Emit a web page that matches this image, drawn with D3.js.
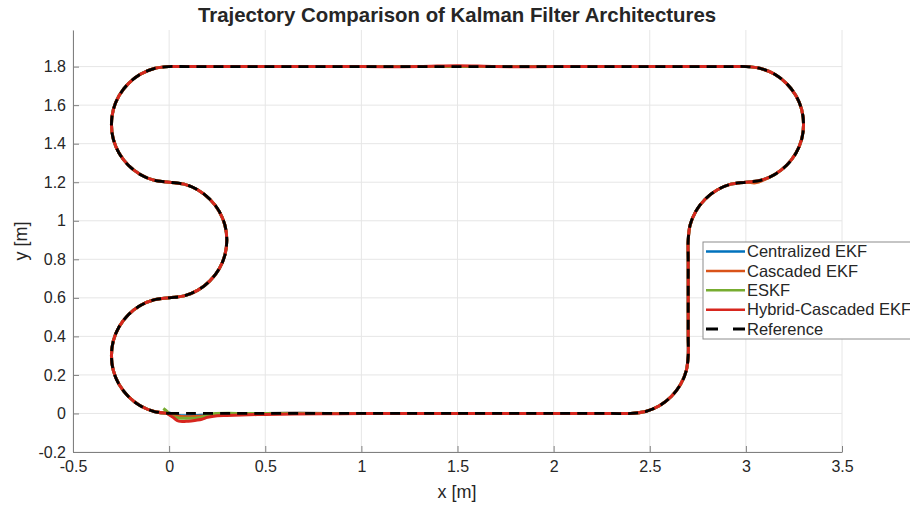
<!DOCTYPE html>
<html>
<head>
<meta charset="utf-8">
<script src="https://cdn.jsdelivr.net/npm/d3@7"></script>
<style>
  body { margin: 0; background: #fff; }
  svg { font-family: "Liberation Sans", Arial, sans-serif; }
</style>
</head>
<body>
<svg width="910" height="505"></svg>
<script>
// reference track (x, y in metres), counter-clockwise from the origin
var refBottom = [[0, 0], [0.5, 0], [1, 0], [1.5, 0], [2, 0], [2.3, 0], [2.4, 0]];
var refRight1 = [
  [2.478, 0.01], [2.55, 0.04], [2.612, 0.088], [2.66, 0.15], [2.69, 0.222], [2.7, 0.3],
  [2.7, 0.4], [2.7, 0.6], [2.7, 0.8], [2.7, 0.9],
  [2.71, 0.978], [2.74, 1.05], [2.788, 1.112], [2.85, 1.16], [2.922, 1.19], [3.0, 1.2]
];
var refRight2 = [
  [3.078, 1.21], [3.15, 1.24], [3.212, 1.288], [3.26, 1.35], [3.29, 1.422], [3.3, 1.5],
  [3.29, 1.578], [3.26, 1.65], [3.212, 1.712], [3.15, 1.76], [3.078, 1.79], [3.0, 1.8]
];
var refTop = [[2.9, 1.8], [2.5, 1.8], [2, 1.8], [1.5, 1.8], [1, 1.8], [0.5, 1.8], [0.1, 1.8], [0, 1.8]];
var refLeft = [
  [-0.078, 1.79], [-0.15, 1.76], [-0.212, 1.712], [-0.26, 1.65], [-0.29, 1.578], [-0.3, 1.5],
  [-0.29, 1.422], [-0.26, 1.35], [-0.212, 1.288], [-0.15, 1.24], [-0.078, 1.21], [0, 1.2],
  [0.078, 1.19], [0.15, 1.16], [0.212, 1.112], [0.26, 1.05], [0.29, 0.978], [0.3, 0.9],
  [0.29, 0.822], [0.26, 0.75], [0.212, 0.688], [0.15, 0.64], [0.078, 0.61], [0, 0.6],
  [-0.078, 0.59], [-0.15, 0.56], [-0.212, 0.512], [-0.26, 0.45], [-0.29, 0.378], [-0.3, 0.3],
  [-0.29, 0.222], [-0.26, 0.15], [-0.212, 0.088], [-0.15, 0.04], [-0.078, 0.01], [0, 0]
];

// estimated trajectories: their own start transients, then they sit on the track
var centralizedStart = [[-0.01, 0.005], [0.05, -0.01], [0.15, -0.01], [0.3, -0.005]];
var cascadedStart = [[-0.01, 0.0], [0.05, -0.015], [0.15, -0.015], [0.3, -0.005]];
var eskfStart = [[-0.03, 0.026], [-0.01, 0.01], [0.01, -0.01], [0.04, -0.022], [0.1, -0.025],
                 [0.16, -0.022], [0.2, -0.01], [0.23, -0.002], [0.4, 0]];
var hybridStart = [[-0.01, 0.0], [0.02, -0.02], [0.05, -0.04], [0.1, -0.04], [0.14, -0.035],
                   [0.17, -0.03], [0.2, -0.02], [0.25, -0.012], [0.3, -0.01], [0.5, -0.005], [0.8, -0.002]];

// small wobbles seen along the track
var cascadedBump = [[3.05, 1.197], [3.1, 1.215]];
var hybridTop = [[2.9, 1.8], [2.5, 1.8], [2, 1.8], [1.7, 1.8], [1.5, 1.805], [1.3, 1.8],
                 [1, 1.8], [0.5, 1.8], [0.1, 1.8], [0, 1.8]];

var seriesNames = ["Centralized EKF", "Cascaded EKF", "ESKF", "Hybrid-Cascaded EKF", "Reference"];
var seriesColors = ["#0072BD", "#D95319", "#77AC30", "#D7261E", "#000000"];

var xTicks = [-0.5, 0, 0.5, 1, 1.5, 2, 2.5, 3, 3.5];
var yTicks = [-0.2, 0, 0.2, 0.4, 0.6, 0.8, 1, 1.2, 1.4, 1.6, 1.8];

var reference = [].concat(refBottom, refRight1, refRight2, refTop, refLeft);

function bottomAfter(x0) {
  return refBottom.filter(function(p) { return p[0] > x0; });
}

var estimates = [
  [].concat(centralizedStart, bottomAfter(0.3), refRight1, refRight2, refTop, refLeft),
  [].concat(cascadedStart, bottomAfter(0.3), refRight1, cascadedBump, refRight2.slice(1), refTop, refLeft),
  [].concat(eskfStart, bottomAfter(0.4), refRight1, refRight2, refTop, refLeft),
  [].concat(hybridStart, bottomAfter(0.8), refRight1, refRight2, hybridTop, refLeft)
];

var svg = d3.select("svg"),
    plotLeft = 73, plotRight = 842, plotTop = 30, plotBottom = 452;

var x = d3.scaleLinear().domain([-0.5, 3.5]).range([plotLeft, plotRight]);
var y = d3.scaleLinear().domain([-0.2, 1.99]).range([plotBottom, plotTop]);

var fmt = function(d) { return String(d); };

// grid
var grid = svg.append("g").attr("stroke", "#e6e6e6").attr("stroke-width", 1);
grid.selectAll(".gx").data(xTicks).enter().append("line")
    .attr("x1", function(d) { return x(d); }).attr("x2", function(d) { return x(d); })
    .attr("y1", plotTop).attr("y2", plotBottom);
grid.selectAll(".gy").data(yTicks).enter().append("line")
    .attr("y1", function(d) { return y(d); }).attr("y2", function(d) { return y(d); })
    .attr("x1", plotLeft).attr("x2", plotRight);

// axes
var xAxis = svg.append("g")
    .attr("transform", "translate(0," + plotBottom + ")")
    .call(d3.axisBottom(x).tickValues(xTicks).tickSizeInner(-6).tickSizeOuter(0).tickPadding(9)
      .tickFormat(fmt));
var yAxis = svg.append("g")
    .attr("transform", "translate(" + plotLeft + ",0)")
    .call(d3.axisLeft(y).tickValues(yTicks).tickSizeInner(-6).tickSizeOuter(0).tickPadding(7)
      .tickFormat(fmt));
[xAxis, yAxis].forEach(function(a) {
  a.select(".domain").attr("stroke", "#808080");
  a.selectAll(".tick line").attr("stroke", "#808080");
  a.selectAll(".tick text").attr("fill", "#262626").attr("font-size", 16)
    .attr("font-family", "Liberation Sans, Arial, sans-serif");
});

// lines
var line = d3.line()
    .x(function(d) { return x(d[0]); })
    .y(function(d) { return y(d[1]); })
    .curve(d3.curveCatmullRom.alpha(0.5));

svg.append("g").selectAll("path").data(estimates).enter().append("path")
    .attr("d", line)
    .attr("fill", "none")
    .attr("stroke", function(d, i) { return seriesColors[i]; })
    .attr("stroke-width", 3)
    .attr("stroke-linejoin", "round");

svg.append("path")
    .attr("d", line(reference))
    .attr("fill", "none")
    .attr("stroke", "#000")
    .attr("stroke-width", 2.8)
    .attr("stroke-dasharray", "10,7");

// labels
svg.append("text")
    .attr("x", 457).attr("y", 22)
    .attr("text-anchor", "middle")
    .attr("font-size", 20.4).attr("font-weight", "bold").attr("fill", "#262626")
    .text("Trajectory Comparison of Kalman Filter Architectures");

svg.append("text")
    .attr("x", 457).attr("y", 498)
    .attr("text-anchor", "middle")
    .attr("font-size", 18).attr("fill", "#262626")
    .text("x [m]");

svg.append("text")
    .attr("transform", "translate(27,241) rotate(-90)")
    .attr("text-anchor", "middle")
    .attr("font-size", 18).attr("fill", "#262626")
    .text("y [m]");

// legend
var legend = svg.append("g").attr("transform", "translate(703,242)");
legend.append("rect")
    .attr("width", 230).attr("height", 97)
    .attr("fill", "#fff").attr("stroke", "#8c8c8c").attr("stroke-width", 1);

var item = legend.selectAll(".item").data(seriesNames).enter().append("g")
    .attr("transform", function(d, i) { return "translate(0," + (9.5 + i * 19.4) + ")"; });
item.append("line")
    .attr("x1", 3).attr("x2", 42)
    .attr("stroke", function(d, i) { return seriesColors[i]; })
    .attr("stroke-width", function(d, i) { return i === 4 ? 3 : 2.5; })
    .attr("stroke-dasharray", function(d, i) { return i === 4 ? "12,15" : null; });
item.append("text")
    .attr("x", 44).attr("dy", "0.35em")
    .attr("font-size", 16.5).attr("fill", "#262626")
    .text(function(d) { return d; });
</script>
</body>
</html>
